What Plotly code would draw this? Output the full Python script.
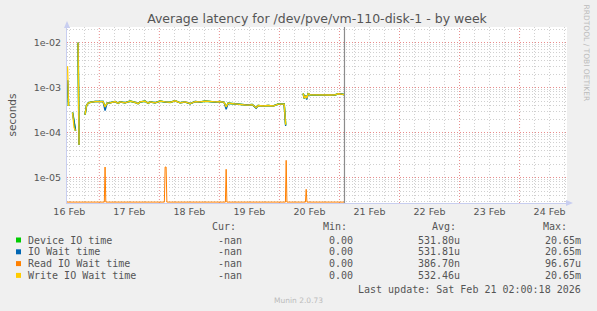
import pandas as pd
import plotly.graph_objects as go

# ---------------- data ----------------
BASE = "2026-02-16 00:00"          # hour offsets below are relative to this
NOW = "2026-02-21 02:00:18"

# hours since BASE for the three overlapping series (None rows = gaps)
hours_main = [11.3, 11.7, 12.5,
              13.3, 13.9, 14.5, 15.0,
              15.5, 15.9, 17.0,
              18.3, 18.9, 19.5, 20.3, 22.3, 24.3, 25.5, 26.3, 27.1, 28.3,
              30.3, 31.5, 32.3, 34.3, 36.3, 38.3, 39.5, 40.3, 42.3, 43.5,
              44.3, 46.3, 48.3, 50.3, 52.3, 54.3, 56.3, 58.3, 60.3, 62.3,
              64.3, 66.3, 68.3, 70.3, 72.3, 73.9, 74.7, 75.5, 77.1, 79.1,
              81.1, 83.1, 85.1, 86.7, 87.5, 89.5, 91.5, 93.5, 95.5, 97.1,
              97.9, 98.5, 99.5,
              105.5, 105.9, 106.5, 106.9, 107.5, 108.3, 110.3, 112.3, 114.3,
              116.3, 118.3, 119.5, 120.7, 121.9]

device_io_time = [1.45e-3, 3.9e-4, None,
                  2.8e-4, 1.6e-4, 1.1e-4, None,
                  1.0e-2, 5.4e-5, None,
                  2.5e-4, 4.0e-4, 4.5e-4, 4.7e-4, 4.9e-4, 4.8e-4, 4.9e-4, 3.7e-4, 4.5e-4, 4.6e-4,
                  4.9e-4, 4.5e-4, 4.8e-4, 4.6e-4, 5.0e-4, 4.7e-4, 4.4e-4, 4.8e-4, 5.0e-4, 4.5e-4,
                  4.8e-4, 4.6e-4, 5.0e-4, 4.8e-4, 4.7e-4, 5.1e-4, 4.6e-4, 4.8e-4, 4.4e-4, 4.9e-4,
                  4.8e-4, 5.0e-4, 4.9e-4, 4.8e-4, 4.9e-4, 4.7e-4, 3.7e-4, 4.5e-4, 4.4e-4, 4.3e-4,
                  4.2e-4, 4.1e-4, 4.2e-4, 3.6e-4, 4.0e-4, 3.9e-4, 4.0e-4, 3.9e-4, 4.3e-4, 4.4e-4,
                  4.3e-4, 1.5e-4, None,
                  7.4e-4, 5.8e-4, 6.6e-4, 5.8e-4, 7.3e-4, 6.9e-4, 6.9e-4, 6.8e-4, 6.9e-4,
                  6.85e-4, 6.9e-4, 7.3e-4, 7.2e-4, 7.0e-4]

io_wait_time = [1.45e-3, 3.9e-4, None,
                2.8e-4, 1.6e-4, 1.1e-4, None,
                1.0e-2, 5.4e-5, None,
                2.5e-4, 4.0e-4, 4.5e-4, 4.7e-4, 4.9e-4, 4.8e-4, 4.9e-4, 3.1e-4, 4.5e-4, 4.6e-4,
                4.9e-4, 4.5e-4, 4.8e-4, 4.6e-4, 5.0e-4, 4.7e-4, 4.4e-4, 4.8e-4, 5.0e-4, 4.5e-4,
                4.8e-4, 4.6e-4, 5.0e-4, 4.8e-4, 4.7e-4, 5.1e-4, 4.6e-4, 4.8e-4, 4.4e-4, 4.9e-4,
                4.8e-4, 5.0e-4, 4.9e-4, 4.8e-4, 4.9e-4, 4.7e-4, 3.3e-4, 4.5e-4, 4.4e-4, 4.3e-4,
                4.2e-4, 4.1e-4, 4.2e-4, 3.5e-4, 4.0e-4, 3.9e-4, 4.0e-4, 3.9e-4, 4.3e-4, 4.4e-4,
                4.3e-4, 1.4e-4, None,
                7.4e-4, 5.8e-4, 6.6e-4, 5.4e-4, 7.3e-4, 6.9e-4, 6.9e-4, 6.8e-4, 6.9e-4,
                6.85e-4, 6.9e-4, 7.3e-4, 7.2e-4, 7.0e-4]

write_io_wait_time = [2.97e-3, 3.9e-4, None,
                      2.8e-4, 1.3e-4, 1.1e-4, None,
                      1.0e-2, 5.4e-5, None,
                      2.5e-4, 4.0e-4, 4.5e-4, 4.7e-4, 4.9e-4, 4.8e-4, 4.9e-4, 3.7e-4, 4.5e-4, 4.6e-4,
                      4.9e-4, 4.5e-4, 4.8e-4, 4.6e-4, 5.0e-4, 4.7e-4, 4.4e-4, 4.8e-4, 5.0e-4, 4.5e-4,
                      4.8e-4, 4.6e-4, 5.0e-4, 4.8e-4, 4.7e-4, 5.1e-4, 4.6e-4, 4.8e-4, 4.4e-4, 4.9e-4,
                      4.8e-4, 5.0e-4, 4.9e-4, 4.8e-4, 4.9e-4, 4.7e-4, 3.7e-4, 4.5e-4, 4.4e-4, 4.3e-4,
                      4.2e-4, 4.1e-4, 4.2e-4, 3.6e-4, 4.0e-4, 3.9e-4, 4.0e-4, 3.9e-4, 4.3e-4, 4.4e-4,
                      4.3e-4, 1.5e-4, None,
                      7.4e-4, 5.8e-4, 6.6e-4, 5.8e-4, 7.3e-4, 6.9e-4, 6.9e-4, 6.8e-4, 6.9e-4,
                      6.85e-4, 6.9e-4, 7.3e-4, 7.2e-4, 7.0e-4]

hours_read = [11.1, 26.0, 26.3, 26.6, 50.0, 50.3, 50.7, 51.0, 74.4, 74.7, 75.0,
              98.4, 98.7, 99.0, 106.4, 106.7, 107.0, 122.0]
read_io_wait_time = [0.0, 0.0, 1.72e-5, 0.0, 0.0, 1.72e-5, 1.72e-5, 0.0, 0.0, 1.53e-5, 0.0,
                     0.0, 2.42e-5, 0.0, 0.0, 5.5e-6, 0.0, 0.0]

series_names = ["Device IO time", "IO Wait time", "Read IO Wait time", "Write IO Wait time"]
series_colors = ["#00CC00", "#0066B3", "#FF8000", "#FFCC00"]
cur_values = ["-nan", "-nan", "-nan", "-nan"]
min_values = ["0.00", "0.00", "0.00", "0.00"]
avg_values = ["531.80u", "531.81u", "386.70n", "532.46u"]
max_values = ["20.65m", "20.65m", "96.67u", "20.65m"]

day_labels = ["16 Feb", "17 Feb", "18 Feb", "19 Feb", "20 Feb", "21 Feb", "22 Feb", "23 Feb", "24 Feb"]
y_tick_values = [1e-5, 1e-4, 1e-3, 1e-2]
y_tick_labels = ["1e-05", "1e-04", "1e-03", "1e-02"]

title_text = "Average latency for /dev/pve/vm-110-disk-1 - by week"
last_update = "Last update: Sat Feb 21 02:00:18 2026"

# ---------------- layout constants ----------------
W, H = 597, 311
ML, MR, MT, MB = 67, 30, 27, 108
PW, PH = W - ML - MR, H - MT - MB
Y_RANGE = [-5.564, -1.653]
X_START_H, X_END_H = 11.08, 210.96

base = pd.Timestamp(BASE)


def t(h):
    return (base + pd.Timedelta(hours=h)).round("s").to_pydatetime()


def px(x):
    return (x - ML) / PW


def py(y):
    return (H - MB - y) / PH


times_main = [t(h) for h in hours_main]
times_read = [t(h) for h in hours_read]
# rrdtool clips zero values on a log axis to the bottom of the canvas
floor_val = 10 ** (Y_RANGE[0] + 0.02)
read_plot = [v if v > 0 else floor_val for v in read_io_wait_time]

fig = go.Figure()
widths = [1.6, 1.4, 1.0, 1.3]
ys = [device_io_time, io_wait_time, read_plot, write_io_wait_time]
xs = [times_main, times_main, times_read, times_main]
for name, col, x, y, w in zip(series_names, series_colors, xs, ys, widths):
    fig.add_trace(go.Scatter(x=x, y=y, mode="lines", name=name,
                             line=dict(color=col, width=w), connectgaps=False,
                             showlegend=False, hoverinfo="skip"))

n_days = len(day_labels)
noon_ticks = [t(24 * i + 12) for i in range(n_days)]
midnight_ticks = [t(24 * i) for i in range(1, n_days + 1)]
minor_x = [t(24 * i + hh) for i in range(n_days + 1) for hh in (6, 12, 18)]
minor_y = [k * 10 ** e for e in range(-6, -1) for k in range(2, 10)]

MAJOR_GRID = "#E88C8C"
MINOR_GRID = "rgba(150,150,150,0.45)"
AXIS_COL = "#C8CEF0"
FONT_COL = "#555555"
DASH = "1px,2px"

fig.update_layout(
    width=W, height=H, autosize=False,
    margin=dict(l=ML, r=MR, t=MT, b=MB, pad=0),
    paper_bgcolor="#F0F0F0", plot_bgcolor="#FFFFFF",
    font=dict(family="DejaVu Sans", size=10, color=FONT_COL),
    title=dict(text=title_text, x=0.5, xanchor="center", y=1 - 19 / H, yanchor="middle",
               xref="paper", font=dict(family="DejaVu Sans", size=12.5, color=FONT_COL)),
    xaxis=dict(type="date", range=[t(X_START_H), t(X_END_H)],
               tickmode="array", tickvals=noon_ticks, ticktext=day_labels,
               showgrid=False, zeroline=False, showline=True, linecolor=AXIS_COL,
               ticks="", tickfont=dict(size=9.5, color=FONT_COL),
               minor=dict(tickmode="array", tickvals=minor_x, showgrid=True,
                          gridcolor=MINOR_GRID, griddash=DASH, gridwidth=1)),
    yaxis=dict(type="log", range=Y_RANGE, tickmode="array",
               tickvals=y_tick_values, ticktext=y_tick_labels,
               showgrid=True, gridcolor=MAJOR_GRID, griddash=DASH, gridwidth=1,
               zeroline=False, showline=True, linecolor=AXIS_COL,
               ticks="outside", ticklen=3, tickcolor="rgba(0,0,0,0)",
               tickfont=dict(size=9.5, color=FONT_COL),
               title=dict(text="seconds", standoff=15, font=dict(size=10.5, color=FONT_COL)),
               minor=dict(tickmode="array", tickvals=minor_y, showgrid=True,
                          gridcolor=MINOR_GRID, griddash=DASH, gridwidth=1)),
)

# major (red dotted) vertical grid at midnights, beneath the data
for m in midnight_ticks:
    fig.add_shape(type="line", layer="below", xref="x", yref="paper", x0=m, x1=m, y0=0, y1=1,
                  line=dict(color=MAJOR_GRID, width=1, dash=DASH))

# "now" marker
now_t = pd.Timestamp(NOW).to_pydatetime()
fig.add_shape(type="line", xref="x", yref="paper", x0=now_t, x1=now_t,
              y0=0, y1=1, line=dict(color="#8C8C8C", width=1.2))

# axis arrows
fig.add_shape(type="path", xref="paper", yref="paper",
              path=f"M {px(ML-3)} {py(MT+1)} L {px(ML+3)} {py(MT+1)} L {px(ML)} {py(MT-6)} Z",
              fillcolor=AXIS_COL, line=dict(width=0))
fig.add_shape(type="line", xref="paper", yref="paper", x0=px(ML), x1=px(ML), y0=1, y1=py(MT - 3),
              line=dict(color=AXIS_COL, width=1))
fig.add_shape(type="path", xref="paper", yref="paper",
              path=f"M {px(W-MR-1)} {py(H-MB-3)} L {px(W-MR-1)} {py(H-MB+3)} L {px(W-MR+6)} {py(H-MB)} Z",
              fillcolor=AXIS_COL, line=dict(width=0))

# legend (rrdtool style)
mono = dict(family="DejaVu Sans Mono", size=10, color=FONT_COL)
ann = []
header_y = 227
for txt, xr in [("Cur:", 238), ("Min:", 349), ("Avg:", 458), ("Max:", 569)]:
    ann.append(dict(text=txt, x=px(xr), y=py(header_y), xanchor="right"))
for i, name in enumerate(series_names):
    yy = 240 + 11.8 * i
    fig.add_shape(type="rect", xref="paper", yref="paper",
                  x0=px(16), x1=px(21), y0=py(yy - 2.5), y1=py(yy + 2.5),
                  fillcolor=series_colors[i], line=dict(width=0))
    ann.append(dict(text=name, x=px(26), y=py(yy), xanchor="left"))
    ann.append(dict(text=cur_values[i], x=px(244), y=py(yy), xanchor="right"))
    ann.append(dict(text=min_values[i], x=px(355), y=py(yy), xanchor="right"))
    ann.append(dict(text=avg_values[i], x=px(462), y=py(yy), xanchor="right"))
    ann.append(dict(text=max_values[i], x=px(583), y=py(yy), xanchor="right"))
ann.append(dict(text=last_update, x=px(583), y=py(289.5), xanchor="right"))
for a in ann:
    fig.add_annotation(xref="paper", yref="paper", yanchor="middle", showarrow=False,
                       font=mono, **a)

fig.add_annotation(text="Munin 2.0.73", xref="paper", yref="paper", x=px(298), y=py(300),
                   xanchor="center", yanchor="middle", showarrow=False,
                   font=dict(family="DejaVu Sans", size=7.5, color="#BBBBBB"))
fig.add_annotation(text="RRDTOOL / TOBI OETIKER", xref="paper", yref="paper", x=px(586.5), y=py(53),
                   xanchor="center", yanchor="middle", textangle=90, showarrow=False,
                   font=dict(family="DejaVu Sans", size=7.5, color="#BBBBBB"))

fig.write_html("out.html")
